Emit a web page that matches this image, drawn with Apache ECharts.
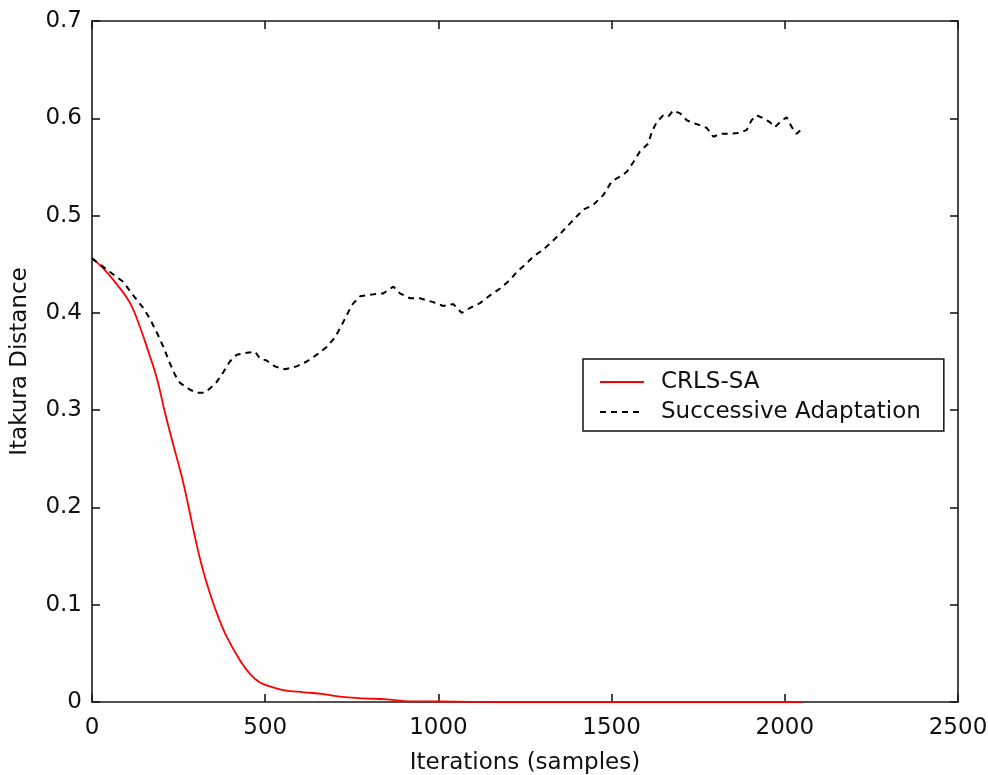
<!DOCTYPE html>
<html>
<head>
<meta charset="utf-8">
<script src="https://cdn.jsdelivr.net/npm/echarts@6/dist/echarts.min.js"></script>
<style>
html,body{margin:0;padding:0;background:#fff;}
#chart{width:988px;height:775px;}
</style>
</head>
<body>
<div id="chart"></div>
<script>
var xTicks = [0, 500, 1000, 1500, 2000, 2500];
var yTicks = [0, 0.1, 0.2, 0.3, 0.4, 0.5, 0.6, 0.7];

var crlsX = [0, 32, 70, 110, 139, 162, 187, 211, 235, 259, 278, 297, 317, 341, 365, 389, 427, 456, 485, 514, 552, 610, 668, 716, 783, 851, 900, 1000, 1200, 1400, 1600, 1800, 2050];
var crlsY = [0.456, 0.446, 0.43, 0.41, 0.385, 0.361, 0.333, 0.297, 0.264, 0.232, 0.202, 0.170, 0.140, 0.111, 0.087, 0.067, 0.043, 0.029, 0.020, 0.0160, 0.0123, 0.010, 0.0082, 0.0055, 0.0038, 0.0028, 0.001, 0.0005, 0, 0, 0, 0, 0];

var saX = [0, 52, 90, 119, 148, 167, 191, 206, 225, 240, 254, 283, 302, 326, 346, 360, 379, 398, 418, 447, 471, 485, 504, 528, 557, 591, 620, 649, 678, 702, 726, 750, 774, 812, 841, 870, 889, 918, 947, 985, 1014, 1043, 1067, 1091, 1120, 1149, 1178, 1207, 1226, 1255, 1274, 1303, 1351, 1380, 1399, 1418, 1447, 1476, 1500, 1524, 1544, 1563, 1582, 1606, 1616, 1630, 1649, 1664, 1678, 1698, 1717, 1736, 1755, 1775, 1794, 1813, 1842, 1871, 1890, 1904, 1919, 1938, 1957, 1972, 1986, 2005, 2020, 2034, 2053];
var saY = [0.456, 0.442, 0.432, 0.418, 0.405, 0.394, 0.377, 0.365, 0.348, 0.336, 0.328, 0.321, 0.318, 0.318, 0.324, 0.329, 0.339, 0.35, 0.357, 0.359, 0.36, 0.353, 0.351, 0.345, 0.342, 0.345, 0.35, 0.357, 0.365, 0.375, 0.391, 0.408, 0.417, 0.419, 0.42, 0.427, 0.42, 0.415, 0.415, 0.411, 0.407, 0.409, 0.4, 0.405, 0.41, 0.418, 0.425, 0.434, 0.442, 0.451, 0.458, 0.465, 0.481, 0.492, 0.499, 0.506, 0.511, 0.521, 0.535, 0.54, 0.545, 0.555, 0.566, 0.574, 0.586, 0.596, 0.603, 0.602, 0.608, 0.605, 0.598, 0.595, 0.593, 0.59, 0.581, 0.584, 0.584, 0.585, 0.588, 0.598, 0.603, 0.6, 0.596, 0.591, 0.596, 0.601, 0.591, 0.584, 0.59];

var seriesNames = ['CRLS-SA', 'Successive Adaptation'];
var xName = 'Iterations (samples)';
var yName = 'Itakura Distance';

function pairs(xs, ys) { return xs.map(function (x, i) { return [x, ys[i]]; }); }

var FONT = 'DejaVu Sans';
var axisCol = '#1a1a1a';

function baseAxis(extra) {
  var a = {
    type: 'value',
    axisLine: { show: true, onZero: false, lineStyle: { color: axisCol, width: 1.6 } },
    axisTick: { show: true, inside: true, length: 8, lineStyle: { color: axisCol, width: 1.6 } },
    splitLine: { show: false },
    axisLabel: { color: '#111', fontFamily: FONT, fontSize: 23 }
  };
  for (var k in extra) a[k] = extra[k];
  return a;
}

var chart = echarts.init(document.getElementById('chart'));
chart.setOption({
  animation: false,
  backgroundColor: '#fff',
  grid: { left: 92, right: 30, top: 21, bottom: 73, containLabel: false, outerBoundsMode: 'none' },
  xAxis: [
    baseAxis({ position: 'bottom', min: xTicks[0], max: xTicks[xTicks.length - 1], interval: xTicks[1] - xTicks[0],
      name: xName, nameLocation: 'middle', nameGap: 50,
      nameTextStyle: { color: '#111', fontFamily: FONT, fontSize: 23 },
      axisLabel: { color: '#111', fontFamily: FONT, fontSize: 23, margin: 15,
        formatter: function (v) { return String(v); } } }),
    baseAxis({ position: 'top', min: xTicks[0], max: xTicks[xTicks.length - 1], interval: xTicks[1] - xTicks[0],
      axisLabel: { show: false } })
  ],
  yAxis: [
    baseAxis({ position: 'left', min: yTicks[0], max: yTicks[yTicks.length - 1], interval: 0.1,
      name: yName, nameLocation: 'middle', nameGap: 60,
      nameTextStyle: { color: '#111', fontFamily: FONT, fontSize: 23 },
      axisLabel: { color: '#111', fontFamily: FONT, fontSize: 23, margin: 10,
        formatter: function (v) { return String(Math.round(v * 10) / 10); } } }),
    baseAxis({ position: 'right', min: yTicks[0], max: yTicks[yTicks.length - 1], interval: 0.1,
      axisLabel: { show: false } })
  ],
  legend: {
    orient: 'vertical',
    left: 583, top: 359,
    padding: [11, 23, 7, 16],
    itemWidth: 44, itemHeight: 14, itemGap: 6,
    borderColor: '#111', borderWidth: 1.5,
    backgroundColor: '#fff',
    itemStyle: { opacity: 0 },
    textStyle: { color: '#111', fontFamily: FONT, fontSize: 23, lineHeight: 24, padding: [0, 0, 0, 12] },
    data: seriesNames
  },
  series: [
    {
      name: seriesNames[0], type: 'line', xAxisIndex: 0, yAxisIndex: 0,
      data: pairs(crlsX, crlsY), symbol: 'none', smooth: 0.4,
      lineStyle: { color: '#ff0000', width: 1.8 }, itemStyle: { color: '#ff0000' }, z: 3
    },
    {
      name: seriesNames[1], type: 'line', xAxisIndex: 0, yAxisIndex: 0,
      data: pairs(saX, saY), symbol: 'none',
      lineStyle: { color: '#000', width: 2, type: [6, 5] }, itemStyle: { color: '#000' }, z: 3
    }
  ]
});
</script>
</body>
</html>
